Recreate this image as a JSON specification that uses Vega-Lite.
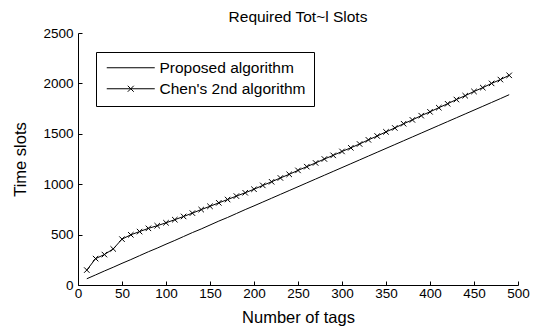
{
  "$schema": "https://vega.github.io/schema/vega-lite/v6.json",
  "width": 440,
  "height": 252,
  "autosize": {"type": "none"},
  "padding": {"left": 78, "top": 33, "right": 17, "bottom": 46},
  "background": "white",
  "title": {"text": "Required Tot~l Slots", "font": "Liberation Sans", "fontSize": 15.5, "fontWeight": "normal", "color": "black", "offset": 1},
  "config": {
    "view": {"stroke": null},
    "axis": {"grid": false, "domainColor": "black", "tickColor": "black", "labelColor": "black", "titleColor": "black", "labelFont": "Liberation Sans", "labelFontSize": 13.5, "titleFont": "Liberation Sans", "titleFontSize": 16.5, "titleFontWeight": "normal", "tickSize": -4, "domainWidth": 1, "tickWidth": 1, "format": "d"}
  },
  "data": {"values": [
    {"tags": 10, "slots": 62, "series": "Proposed algorithm"},
    {"tags": 20, "slots": 100, "series": "Proposed algorithm"},
    {"tags": 30, "slots": 139, "series": "Proposed algorithm"},
    {"tags": 40, "slots": 176, "series": "Proposed algorithm"},
    {"tags": 50, "slots": 215, "series": "Proposed algorithm"},
    {"tags": 60, "slots": 252, "series": "Proposed algorithm"},
    {"tags": 70, "slots": 291, "series": "Proposed algorithm"},
    {"tags": 80, "slots": 330, "series": "Proposed algorithm"},
    {"tags": 90, "slots": 366, "series": "Proposed algorithm"},
    {"tags": 100, "slots": 405, "series": "Proposed algorithm"},
    {"tags": 110, "slots": 442, "series": "Proposed algorithm"},
    {"tags": 120, "slots": 481, "series": "Proposed algorithm"},
    {"tags": 130, "slots": 520, "series": "Proposed algorithm"},
    {"tags": 140, "slots": 556, "series": "Proposed algorithm"},
    {"tags": 150, "slots": 595, "series": "Proposed algorithm"},
    {"tags": 160, "slots": 634, "series": "Proposed algorithm"},
    {"tags": 170, "slots": 670, "series": "Proposed algorithm"},
    {"tags": 180, "slots": 709, "series": "Proposed algorithm"},
    {"tags": 190, "slots": 748, "series": "Proposed algorithm"},
    {"tags": 200, "slots": 785, "series": "Proposed algorithm"},
    {"tags": 210, "slots": 823, "series": "Proposed algorithm"},
    {"tags": 220, "slots": 861, "series": "Proposed algorithm"},
    {"tags": 230, "slots": 899, "series": "Proposed algorithm"},
    {"tags": 240, "slots": 937, "series": "Proposed algorithm"},
    {"tags": 250, "slots": 975, "series": "Proposed algorithm"},
    {"tags": 260, "slots": 1013, "series": "Proposed algorithm"},
    {"tags": 270, "slots": 1051, "series": "Proposed algorithm"},
    {"tags": 280, "slots": 1089, "series": "Proposed algorithm"},
    {"tags": 290, "slots": 1127, "series": "Proposed algorithm"},
    {"tags": 300, "slots": 1165, "series": "Proposed algorithm"},
    {"tags": 310, "slots": 1203, "series": "Proposed algorithm"},
    {"tags": 320, "slots": 1241, "series": "Proposed algorithm"},
    {"tags": 330, "slots": 1279, "series": "Proposed algorithm"},
    {"tags": 340, "slots": 1317, "series": "Proposed algorithm"},
    {"tags": 350, "slots": 1355, "series": "Proposed algorithm"},
    {"tags": 360, "slots": 1393, "series": "Proposed algorithm"},
    {"tags": 370, "slots": 1431, "series": "Proposed algorithm"},
    {"tags": 380, "slots": 1469, "series": "Proposed algorithm"},
    {"tags": 390, "slots": 1507, "series": "Proposed algorithm"},
    {"tags": 400, "slots": 1545, "series": "Proposed algorithm"},
    {"tags": 410, "slots": 1583, "series": "Proposed algorithm"},
    {"tags": 420, "slots": 1621, "series": "Proposed algorithm"},
    {"tags": 430, "slots": 1659, "series": "Proposed algorithm"},
    {"tags": 440, "slots": 1697, "series": "Proposed algorithm"},
    {"tags": 450, "slots": 1735, "series": "Proposed algorithm"},
    {"tags": 460, "slots": 1773, "series": "Proposed algorithm"},
    {"tags": 470, "slots": 1811, "series": "Proposed algorithm"},
    {"tags": 480, "slots": 1849, "series": "Proposed algorithm"},
    {"tags": 490, "slots": 1888, "series": "Proposed algorithm"},
    {"tags": 10, "slots": 148, "series": "Chen's 2nd algorithm"},
    {"tags": 20, "slots": 262, "series": "Chen's 2nd algorithm"},
    {"tags": 30, "slots": 302, "series": "Chen's 2nd algorithm"},
    {"tags": 40, "slots": 358, "series": "Chen's 2nd algorithm"},
    {"tags": 50, "slots": 455, "series": "Chen's 2nd algorithm"},
    {"tags": 60, "slots": 498, "series": "Chen's 2nd algorithm"},
    {"tags": 70, "slots": 530, "series": "Chen's 2nd algorithm"},
    {"tags": 80, "slots": 562, "series": "Chen's 2nd algorithm"},
    {"tags": 90, "slots": 588, "series": "Chen's 2nd algorithm"},
    {"tags": 100, "slots": 617, "series": "Chen's 2nd algorithm"},
    {"tags": 110, "slots": 648, "series": "Chen's 2nd algorithm"},
    {"tags": 120, "slots": 680, "series": "Chen's 2nd algorithm"},
    {"tags": 130, "slots": 713, "series": "Chen's 2nd algorithm"},
    {"tags": 140, "slots": 748, "series": "Chen's 2nd algorithm"},
    {"tags": 150, "slots": 781, "series": "Chen's 2nd algorithm"},
    {"tags": 160, "slots": 815, "series": "Chen's 2nd algorithm"},
    {"tags": 170, "slots": 848, "series": "Chen's 2nd algorithm"},
    {"tags": 180, "slots": 882, "series": "Chen's 2nd algorithm"},
    {"tags": 190, "slots": 915, "series": "Chen's 2nd algorithm"},
    {"tags": 200, "slots": 950, "series": "Chen's 2nd algorithm"},
    {"tags": 210, "slots": 988, "series": "Chen's 2nd algorithm"},
    {"tags": 220, "slots": 1024, "series": "Chen's 2nd algorithm"},
    {"tags": 230, "slots": 1062, "series": "Chen's 2nd algorithm"},
    {"tags": 240, "slots": 1098, "series": "Chen's 2nd algorithm"},
    {"tags": 250, "slots": 1137, "series": "Chen's 2nd algorithm"},
    {"tags": 260, "slots": 1174, "series": "Chen's 2nd algorithm"},
    {"tags": 270, "slots": 1211, "series": "Chen's 2nd algorithm"},
    {"tags": 280, "slots": 1250, "series": "Chen's 2nd algorithm"},
    {"tags": 290, "slots": 1286, "series": "Chen's 2nd algorithm"},
    {"tags": 300, "slots": 1325, "series": "Chen's 2nd algorithm"},
    {"tags": 310, "slots": 1361, "series": "Chen's 2nd algorithm"},
    {"tags": 320, "slots": 1399, "series": "Chen's 2nd algorithm"},
    {"tags": 330, "slots": 1440, "series": "Chen's 2nd algorithm"},
    {"tags": 340, "slots": 1478, "series": "Chen's 2nd algorithm"},
    {"tags": 350, "slots": 1519, "series": "Chen's 2nd algorithm"},
    {"tags": 360, "slots": 1558, "series": "Chen's 2nd algorithm"},
    {"tags": 370, "slots": 1600, "series": "Chen's 2nd algorithm"},
    {"tags": 380, "slots": 1638, "series": "Chen's 2nd algorithm"},
    {"tags": 390, "slots": 1680, "series": "Chen's 2nd algorithm"},
    {"tags": 400, "slots": 1718, "series": "Chen's 2nd algorithm"},
    {"tags": 410, "slots": 1759, "series": "Chen's 2nd algorithm"},
    {"tags": 420, "slots": 1798, "series": "Chen's 2nd algorithm"},
    {"tags": 430, "slots": 1840, "series": "Chen's 2nd algorithm"},
    {"tags": 440, "slots": 1878, "series": "Chen's 2nd algorithm"},
    {"tags": 450, "slots": 1920, "series": "Chen's 2nd algorithm"},
    {"tags": 460, "slots": 1958, "series": "Chen's 2nd algorithm"},
    {"tags": 470, "slots": 2000, "series": "Chen's 2nd algorithm"},
    {"tags": 480, "slots": 2038, "series": "Chen's 2nd algorithm"},
    {"tags": 490, "slots": 2080, "series": "Chen's 2nd algorithm"}
  ]},
  "layer": [
    {
      "mark": {"type": "line", "strokeWidth": 1},
      "encoding": {
        "x": {"field": "tags", "type": "quantitative", "scale": {"domain": [0, 500], "nice": false}, "axis": {"title": "Number of tags", "values": [0, 50, 100, 150, 200, 250, 300, 350, 400, 450, 500], "labelPadding": 5, "titlePadding": 10, "labelFlush": false}},
        "y": {"field": "slots", "type": "quantitative", "scale": {"domain": [0, 2500], "nice": false}, "axis": {"title": "Time slots", "values": [0, 500, 1000, 1500, 2000, 2500], "labelPadding": 9, "titlePadding": 14, "labelFlush": false}},
        "color": {
          "field": "series", "type": "nominal",
          "scale": {"domain": ["Proposed algorithm", "Chen's 2nd algorithm"], "range": ["black", "black"]},
          "legend": {
            "title": null, "orient": "none", "legendX": 18, "legendY": 19,
            "strokeColor": "black", "fillColor": "white", "padding": 8, "cornerRadius": 0,
            "labelFont": "Liberation Sans", "labelFontSize": 15.5, "labelColor": "black", "labelLimit": 0, "labelOffset": 40,
            "symbolSize": 100, "symbolStrokeWidth": 1, "symbolStrokeColor": "black", "rowPadding": 4,
            "encode": {"symbols": {"update": {"shape": {"signal": "indexof(datum.value, 'Chen') >= 0 ? 'M-1,0H8.6M3.2,-0.6L4.4,0.6M3.2,0.6L4.4,-0.6' : 'M-1,0H8.6'"}, "stroke": {"value": "black"}, "strokeWidth": {"value": 1}}}}
          }
        }
      }
    },
    {
      "transform": [{"filter": "datum.series != 'Proposed algorithm'"}],
      "mark": {"type": "point", "shape": "M-1,-1L1,1M-1,1L1,-1", "filled": false, "color": "black", "size": 30, "strokeWidth": 1, "opacity": 1},
      "encoding": {
        "x": {"field": "tags", "type": "quantitative"},
        "y": {"field": "slots", "type": "quantitative"}
      }
    }
  ]
}
